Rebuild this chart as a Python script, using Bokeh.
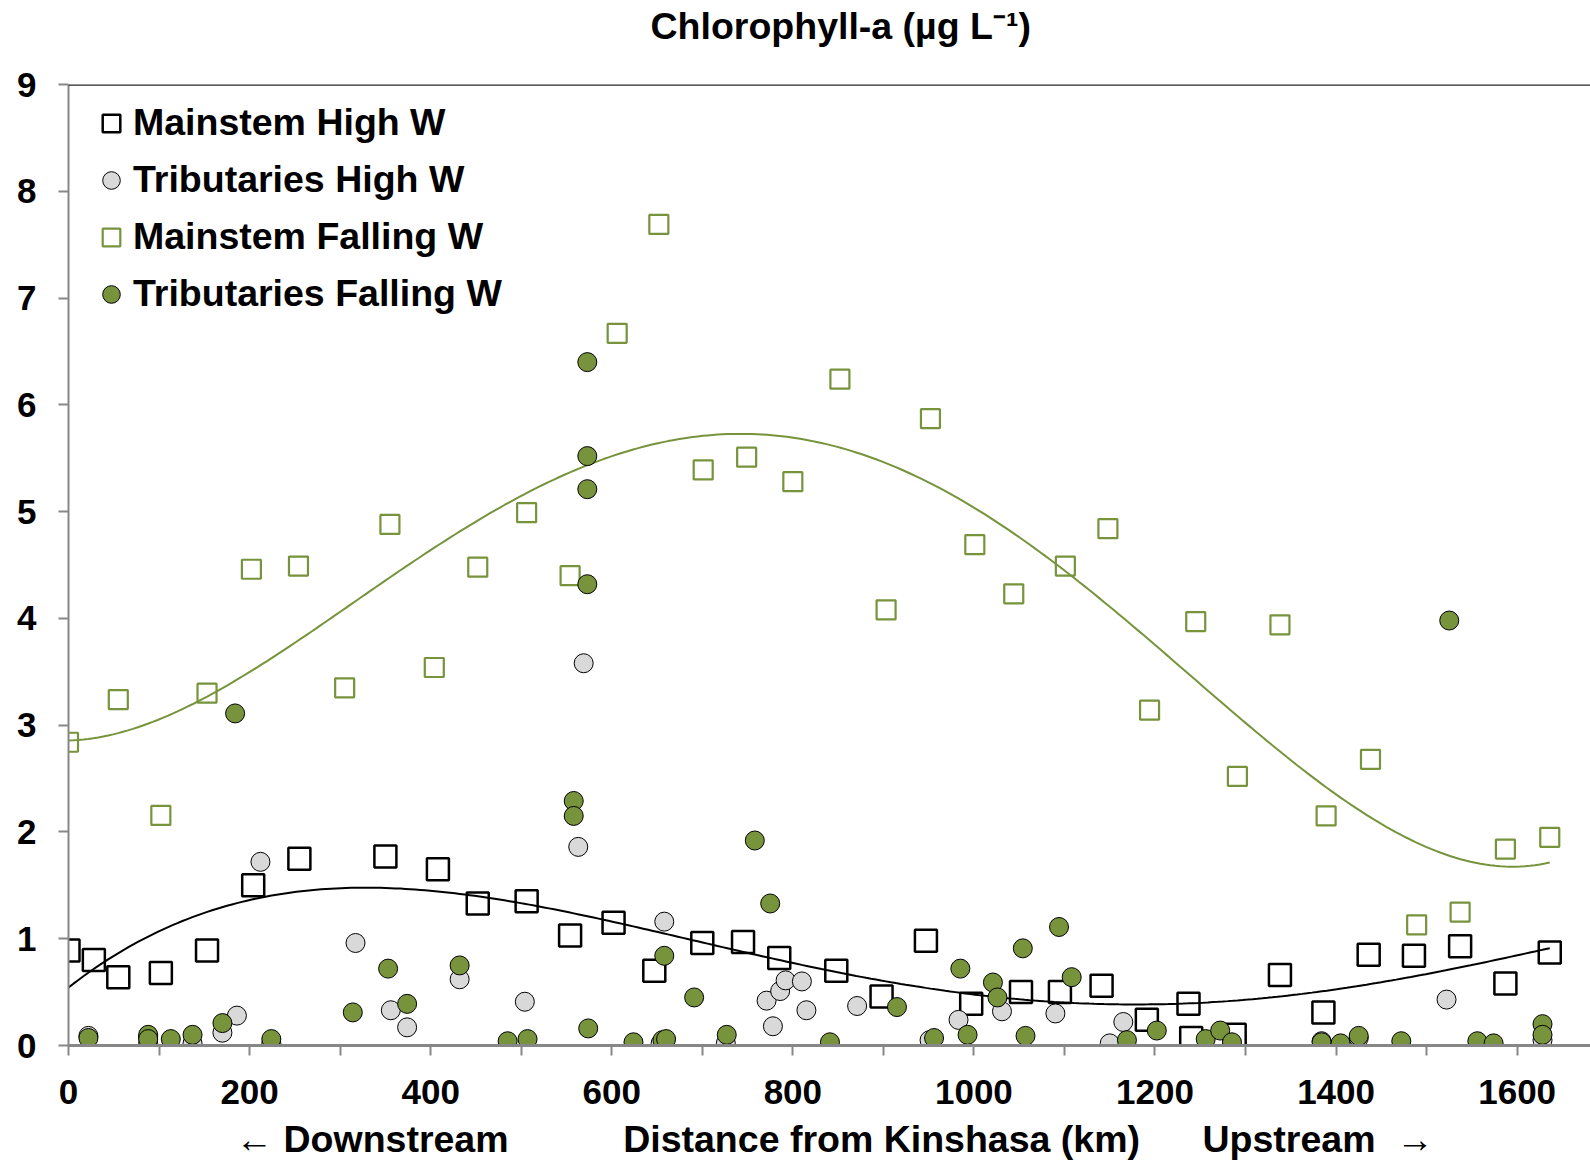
import numpy as np
from bokeh.plotting import figure
from bokeh.models import Range1d, FixedTicker, Span, Legend, LegendItem, Title
from bokeh.embed import file_html
from bokeh.resources import INLINE

# ---------------- data ----------------
ms_high_km = [0, 28, 55, 102, 153, 204, 255, 350, 408, 452, 506, 554, 602, 647, 700, 745, 785,
              848, 898, 947, 997, 1052, 1095, 1141, 1191, 1237, 1240, 1288, 1338, 1386, 1436,
              1486, 1537, 1587, 1636]
ms_high_v = [0.89, 0.80, 0.64, 0.68, 0.89, 1.50, 1.75, 1.77, 1.65, 1.33, 1.35, 1.03, 1.15, 0.70,
             0.96, 0.97, 0.82, 0.70, 0.46, 0.98, 0.39, 0.50, 0.50, 0.56, 0.24, 0.39, 0.07, 0.10,
             0.66, 0.31, 0.85, 0.84, 0.93, 0.58, 0.87]

trib_high_km = [22, 88, 88, 137, 170, 186, 212, 224, 317, 356, 374, 432, 504, 563, 569, 654, 658,
                726, 771, 778, 786, 792, 810, 815, 871, 951, 983, 1031, 1090, 1150, 1165, 1384,
                1425, 1522, 1628]
trib_high_v = [0.09, 0.08, 0.02, 0.02, 0.12, 0.28, 1.72, 0.02, 0.96, 0.33, 0.17, 0.62, 0.41, 1.86,
               3.58, 0.02, 1.16, 0.02, 0.42, 0.18, 0.51, 0.61, 0.60, 0.33, 0.37, 0.05, 0.24, 0.32,
               0.30, 0.02, 0.22, 0.04, 0.07, 0.43, 0.05]

ms_fall_km = [0, 55, 102, 153, 202, 254, 305, 355, 404, 452, 506, 554, 606, 652, 701, 749, 800,
              852, 903, 952, 1001, 1044, 1101, 1148, 1194, 1245, 1291, 1338, 1389, 1438, 1489,
              1537, 1587, 1636]
ms_fall_v = [2.84, 3.24, 2.155, 3.30, 4.46, 4.49, 3.35, 4.88, 3.54, 4.48, 4.99, 4.40, 6.67, 7.69,
             5.39, 5.51, 5.28, 6.24, 4.08, 5.87, 4.69, 4.23, 4.49, 4.84, 3.14, 3.97, 2.52, 3.94,
             2.15, 2.68, 1.13, 1.25, 1.84, 1.95]

trib_fall_km = [22, 88, 88, 113, 137, 170, 184, 224, 314, 353, 374, 432, 485, 507, 558, 558, 573,
                573, 573, 573, 574, 624, 656, 658, 660, 691, 727, 758, 775, 841, 915, 956, 985,
                993, 1021, 1026, 1054, 1057, 1094, 1108, 1169, 1202, 1256, 1272, 1285, 1384, 1405,
                1425, 1472, 1525, 1556, 1574, 1628, 1628]
trib_fall_v = [0.07, 0.10, 0.06, 0.06, 0.10, 0.21, 3.11, 0.06, 0.31, 0.72, 0.39, 0.75, 0.04, 0.06,
               2.29, 2.15, 6.40, 5.52, 5.21, 4.32, 0.16, 0.03, 0.05, 0.84, 0.06, 0.45, 0.10, 1.92,
               1.33, 0.03, 0.36, 0.07, 0.72, 0.10, 0.59, 0.45, 0.91, 0.09, 1.11, 0.64, 0.05, 0.14,
               0.06, 0.14, 0.03, 0.03, 0.02, 0.09, 0.04, 3.98, 0.04, 0.02, 0.20, 0.10]

series_names = ["Mainstem High W", "Tributaries High W", "Mainstem Falling W", "Tributaries Falling W"]
x_ticks = [0, 200, 400, 600, 800, 1000, 1200, 1400, 1600]
x_minor = [100, 300, 500, 700, 900, 1100, 1300, 1500]
y_ticks = [0, 1, 2, 3, 4, 5, 6, 7, 8, 9]
title_text = "Chlorophyll-a (µg L\u207b\u00b9)"
xlab_left = "\u2190 Downstream"
xlab_mid = "Distance from Kinshasa (km)"
xlab_right = "Upstream"
xlab_arrow = "\u2192"

# trend lines (Excel-like order-4 polynomial trendlines fitted to the mainstem series)
deg_high = 4
deg_fall = 4

# ---------------- styling ----------------
FONT = "Liberation Sans, Arial, sans-serif"
GREEN = "#77933C"
GREY_FILL = "#D9D9D9"
AXIS_GREY = "#878787"
NB = "\u00a0"

p = figure(width=1590, height=1163, x_range=Range1d(0, 1681), y_range=Range1d(0, 9),
           output_backend="svg", toolbar_location=None,
           min_border_left=68, min_border_right=0, min_border_top=84, min_border_bottom=118)
p.outline_line_color = None
p.grid.visible = False
p.title.text = ""

# title: an invisible spacer panel next to the frame, then the real title above it
p.add_layout(Title(text=NB, text_font=FONT, text_font_size="10px", text_color="white",
                   standoff=23), "above")
p.add_layout(Title(text=title_text, align="left", offset=582, vertical_align="top",
                   text_font=FONT, text_font_style="bold", text_font_size="37.5px",
                   text_color="black", standoff=0), "above")

# axes
xa = p.xaxis[0]
xa.ticker = FixedTicker(ticks=x_ticks, minor_ticks=x_minor)
xa.axis_line_color = AXIS_GREY
xa.axis_line_width = 3
xa.major_tick_line_color = AXIS_GREY
xa.minor_tick_line_color = AXIS_GREY
xa.major_tick_line_width = 2
xa.minor_tick_line_width = 2
xa.major_tick_out = 10
xa.major_tick_in = 0
xa.minor_tick_out = 10
xa.minor_tick_in = 0
xa.major_label_text_font = FONT
xa.major_label_text_font_style = "bold"
xa.major_label_text_font_size = "35px"
xa.major_label_text_color = "black"
xa.major_label_standoff = 24
xa.axis_label = (NB + xlab_left + NB * 11 + xlab_mid + NB * 6 + xlab_right + NB * 2 + xlab_arrow)
xa.axis_label_text_font = FONT
xa.axis_label_text_font_style = "bold"
xa.axis_label_text_font_size = "37.5px"
xa.axis_label_text_color = "black"
xa.axis_label_standoff = 11

ya = p.yaxis[0]
ya.ticker = FixedTicker(ticks=y_ticks, minor_ticks=[])
ya.axis_line_color = AXIS_GREY
ya.axis_line_width = 2
ya.major_tick_line_color = AXIS_GREY
ya.major_tick_line_width = 2
ya.major_tick_out = 10
ya.major_tick_in = 0
ya.minor_tick_line_color = None
ya.major_label_text_font = FONT
ya.major_label_text_font_style = "bold"
ya.major_label_text_font_size = "35px"
ya.major_label_text_color = "black"
ya.major_label_standoff = 22

# top border line
p.add_layout(Span(location=9, dimension="width", line_color="#262626", line_width=2.5))

# series
r_mh = p.scatter(ms_high_km, ms_high_v, marker="square", size=22, fill_color=None,
                 line_color="black", line_width=2.5)
r_th = p.scatter(trib_high_km, trib_high_v, marker="circle", size=19, fill_color=GREY_FILL,
                 line_color="black", line_width=1)
r_mf = p.scatter(ms_fall_km, ms_fall_v, marker="square", size=19, fill_color=None,
                 line_color=GREEN, line_width=2.2)

# trendlines
xs_h = np.linspace(min(ms_high_km), max(ms_high_km), 300)
ys_h = np.polyval(np.polyfit(ms_high_km, ms_high_v, deg_high), xs_h)
p.line(xs_h, ys_h, line_color="black", line_width=2)
xs_f = np.linspace(min(ms_fall_km), max(ms_fall_km), 300)
ys_f = np.polyval(np.polyfit(ms_fall_km, ms_fall_v, deg_fall), xs_f)
p.line(xs_f, ys_f, line_color=GREEN, line_width=2)

r_tf = p.scatter(trib_fall_km, trib_fall_v, marker="circle", size=19, fill_color=GREEN,
                 line_color="black", line_width=1)

# legend
GW, GH, SP = 44, 48, 9
FRAME_H = 1045.5 - 84
legend = Legend(items=[LegendItem(label=n, renderers=[r]) for n, r in
                       zip(series_names, [r_mh, r_th, r_mf, r_tf])],
                location=(21, FRAME_H - 15 - (4 * GH + 3 * SP)),
                glyph_width=GW, glyph_height=GH, label_height=GH, spacing=SP,
                label_standoff=0, padding=0, margin=0,
                border_line_color=None, background_fill_alpha=0,
                label_text_font=FONT, label_text_font_style="bold",
                label_text_font_size="37.5px", label_text_color="black")
p.add_layout(legend)

open("out.html", "w").write(file_html(p, INLINE))
